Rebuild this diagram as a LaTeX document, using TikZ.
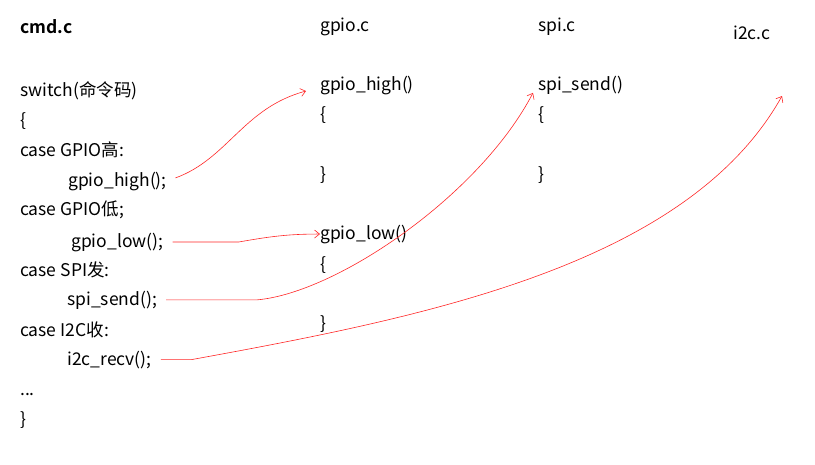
\documentclass[tikz,border=0pt]{standalone}
\usepackage{fontspec}
\setmainfont{Noto Sans CJK SC}[BoldFont={Noto Sans CJK SC Bold}]
\usetikzlibrary{arrows.meta}
\begin{document}
\begin{tikzpicture}[x=1pt, y=-1pt,
    code/.style={anchor=base west, inner sep=0pt, font=\fontsize{17.5}{21}\selectfont},
    call/.style={red!85!white, line width=0.6pt, shorten <=9pt,
        -{Straight Barb[length=5pt, width=8pt]}}]
    \useasboundingbox (0,0) rectangle (815,464);

    % the file names
    \node[code, font=\fontsize{17.5}{21}\selectfont\bfseries] (cmd) at (20,33) {cmd.c};
    \node[code] (gpio) at (320,31) {gpio.c};
    \node[code] (spi) at (538,31) {spi.c};
    \node[code] (i2c) at (733,39) {i2c.c};

    % the switch in cmd.c
    \node[code] (sw) at (20,96) {switch(命令码)};
    \node[code] (sw open) at (20,126) {\{};
    \node[code] (case hi) at (20,156) {case GPIO高:};
    \node[code] (hi call) at (68,186) {gpio\_high();};
    \node[code] (case lo) at (20,215) {case GPIO低;};
    \node[code] (lo call) at (71,247) {gpio\_low();};
    \node[code] (case spi) at (20,276) {case SPI发:};
    \node[code] (spi call) at (67,305) {spi\_send();};
    \node[code] (case i2c) at (20,336) {case I2C收:};
    \node[code] (i2c call) at (67,365) {i2c\_recv();};
    \node[code] (dots) at (20,395) {...};
    \node[code] (sw close) at (20,425) {\}};

    % the functions in gpio.c and spi.c
    \node[code] (hi def) at (320,90) {gpio\_high()};
    \node[code] (hi open) at (320,120) {\{};
    \node[code] (hi close) at (320,180) {\}};
    \node[code] (lo def) at (320,239) {gpio\_low()};
    \node[code] (lo open) at (320,270) {\{};
    \node[code] (lo close) at (320,329) {\}};
    \node[code] (spi def) at (538,90) {spi\_send()};
    \node[code] (spi open) at (538,120) {\{};
    \node[code] (spi close) at (538,180) {\}};

    % the free end of the i2c arrow (there is no function drawn)
    \coordinate (i2c def) at (782,96);

    % the calls
    \draw[call] (hi call.east) to[out=20, in=195] ([xshift=-14pt, yshift=-6pt]hi def.west);
    \draw[call] (lo call.east) -- ++(75,0) to[out=10, in=180] (lo def.west);
    \draw[call] (spi call.east) -- ++(100,0) .. controls ++(80,-7) and ++(-53,102) .. ([xshift=-5pt, yshift=-8pt]spi def.west);
    \draw[call] (i2c call.east) -- ++(40,0) .. controls ++(230,-42) and ++(-95,170) .. (i2c def);
\end{tikzpicture}
\end{document}
